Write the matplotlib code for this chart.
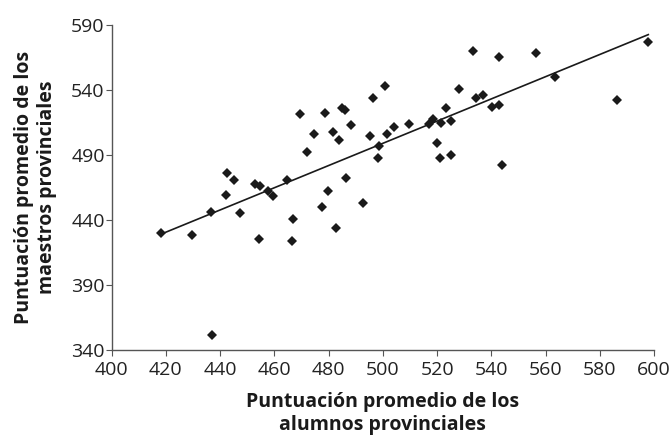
import numpy as np
import matplotlib.pyplot as plt
import matplotlib

# puntuaciones promedio por provincia
alumnos = [418.2, 429.5, 437.0, 436.5, 442.0, 442.4, 445.1, 447.2, 452.9, 454.8,
           454.4, 457.8, 459.6, 464.8, 466.4, 467.0, 469.4, 472.1, 474.6, 477.7,
           478.6, 479.7, 481.5, 482.8, 483.8, 485.0, 486.2, 486.5, 488.1, 492.8,
           495.3, 496.5, 498.1, 498.6, 500.9, 501.6, 504.2, 509.8, 517.2, 518.5,
           519.9, 521.1, 521.6, 523.4, 525.1, 525.1, 528.2, 533.1, 534.2, 536.8,
           540.3, 542.7, 543.0, 544.0, 556.5, 563.6, 586.5, 597.9]
maestros = [430.2, 428.2, 351.3, 445.9, 459.6, 476.4, 470.5, 445.6, 467.5, 465.8,
            425.6, 462.3, 458.2, 470.8, 424.1, 440.9, 521.3, 492.5, 505.9, 450.0,
            522.5, 462.3, 507.5, 433.8, 501.5, 526.0, 524.6, 472.7, 513.3, 452.8,
            505.0, 534.0, 487.5, 497.1, 542.8, 506.5, 511.7, 513.6, 514.2, 517.7,
            499.0, 487.5, 514.4, 525.9, 516.4, 490.0, 541.0, 569.8, 533.8, 536.4,
            526.9, 528.2, 565.2, 482.5, 568.2, 549.8, 532.1, 576.7]

x_ticks = [400, 420, 440, 460, 480, 500, 520, 540, 560, 580, 600]
y_ticks = [340, 390, 440, 490, 540, 590]

matplotlib.rcParams['font.family'] = ['Open Sans', 'DejaVu Sans']
matplotlib.rcParams['font.size'] = 14

fig = plt.figure(figsize=(6.72, 4.41), dpi=100)
ax = fig.add_axes([0.1662, 0.2063, 0.807, 0.737])

ax.plot(alumnos, maestros, 'D', color='#1a1a1a', ms=5.5, mew=0, clip_on=False)

# recta de regresion
m, b = np.polyfit(alumnos, maestros, 1)
xs = np.array([min(alumnos), max(alumnos)])
ax.plot(xs, m * xs + b, color='#1a1a1a', lw=1.2)

ax.set_xlim(400, 600)
ax.set_ylim(340, 590)
ax.set_xticks(x_ticks)
ax.set_yticks(y_ticks)
for s in ['top', 'right']:
    ax.spines[s].set_visible(False)
for s in ['left', 'bottom']:
    ax.spines[s].set_color('#555555')
    ax.spines[s].set_linewidth(1.0)
ax.tick_params(direction='out', length=4, color='#555555', labelsize=14, pad=1,
               labelcolor='#222222')
ax.tick_params(axis='x', pad=4)

ax.set_xlabel('Puntuación promedio de los\nalumnos provinciales', fontweight='bold',
              fontsize=14, labelpad=9, linespacing=1.25, color='#1a1a1a')
ax.set_ylabel('Puntuación promedio de los\nmaestros provinciales', fontweight='bold',
              fontsize=14, labelpad=10, linespacing=1.25, color='#1a1a1a')

plt.savefig('out.png', dpi=100)
